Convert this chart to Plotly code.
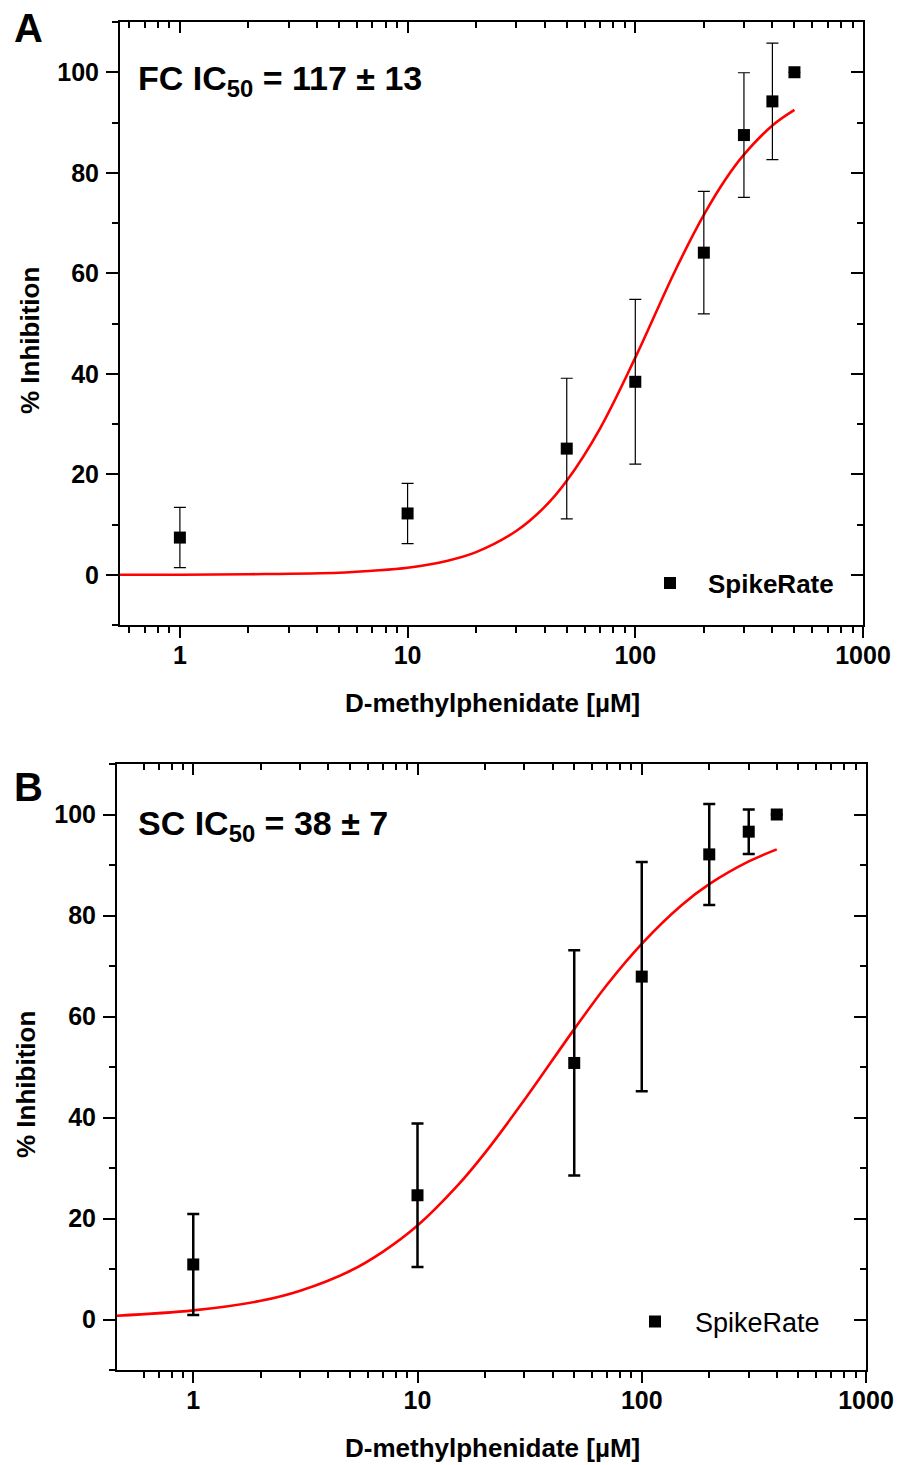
import plotly.graph_objects as go

W, H = 899, 1465

# ---------------- data ----------------
conc_A = [1, 10, 50, 100, 200, 300, 400, 500]
inh_A = [7.4, 12.2, 25.1, 38.4, 64.1, 87.5, 94.2, 100.0]
err_A = [6.0, 6.0, 14.0, 16.4, 12.2, 12.4, 11.6, None]

fit_A_x = [0.546, 1, 2, 5, 7, 10, 15, 20, 30, 40, 50, 70, 100, 150, 200, 250, 300, 400, 500]
fit_A_y = [0.0, 0.0, 0.1, 0.4, 0.8, 1.4, 2.8, 4.5, 8.7, 13.5, 18.7, 29.1, 43.2, 60.6, 71.6, 78.8, 83.6, 89.4, 92.5]

conc_B = [1, 10, 50, 100, 200, 300, 400]
inh_B = [10.9, 24.6, 50.8, 67.9, 92.1, 96.6, 100.0]
err_B = [10.0, 14.2, 22.3, 22.7, 10.0, 4.4, None]

fit_B_x = [0.457, 1, 2, 3, 5, 7, 10, 15, 20, 30, 50, 70, 100, 150, 200, 300, 400]
fit_B_y = [0.75, 1.8, 3.7, 5.7, 9.6, 13.4, 18.6, 26.4, 33.0, 43.5, 57.5, 66.3, 74.4, 82.0, 86.2, 90.7, 93.1]

x_ticks = [1, 10, 100, 1000]
x_ticktext = ["1", "10", "100", "1000"]
x_minor = [0.6, 0.7, 0.8, 0.9] + [a * m for m in (1, 10, 100) for a in range(2, 10)]
y_ticks = [0, 20, 40, 60, 80, 100]

FONT = "Liberation Sans, Arial, sans-serif"

fig = go.Figure()

# Panel A
fig.add_trace(go.Scatter(x=fit_A_x, y=fit_A_y, mode="lines", line=dict(color="#ff0000", width=2.6, shape="spline"),
                         showlegend=False, xaxis="x", yaxis="y", hoverinfo="skip"))
fig.add_trace(go.Scatter(x=conc_A, y=inh_A, mode="markers", name="SpikeRate",
                         marker=dict(symbol="square", size=12, color="black"),
                         error_y=dict(type="data", array=err_A, symmetric=True, color="black", thickness=1.2, width=6),
                         xaxis="x", yaxis="y", legend="legend"))
# Panel B
fig.add_trace(go.Scatter(x=fit_B_x, y=fit_B_y, mode="lines", line=dict(color="#ff0000", width=2.6, shape="spline"),
                         showlegend=False, xaxis="x3", yaxis="y3", hoverinfo="skip"))
fig.add_trace(go.Scatter(x=conc_B, y=inh_B, mode="markers", name="SpikeRate",
                         marker=dict(symbol="square", size=12, color="black"),
                         error_y=dict(type="data", array=err_B, symmetric=True, color="black", thickness=2.5, width=6),
                         xaxis="x3", yaxis="y3", legend="legend2"))

def px_x(p):
    return p / W

def px_y(p):
    return 1 - p / H

tickfont = dict(family=FONT, size=25, color="black", weight="bold")

def xax(rng, dom, anchor, ticks="outside", side="bottom", labels=True, overlay=None):
    d = dict(type="log", range=rng, domain=dom, anchor=anchor, side=side,
             showline=True, linecolor="black", linewidth=2,
             ticks=ticks, ticklen=11, tickwidth=2, tickcolor="black",
             tickmode="array", tickvals=x_ticks, ticktext=x_ticktext,
             showticklabels=labels, tickfont=tickfont, ticklabelstandoff=-4,
             minor=dict(ticks=ticks, ticklen=6, tickwidth=2, tickcolor="black", tickmode="array", tickvals=x_minor, showgrid=False),
             showgrid=False, zeroline=False)
    if overlay:
        d["overlaying"] = overlay
    return d

def yax(dom, anchor, ticks="outside", side="left", labels=True, overlay=None):
    d = dict(range=[-10, 110], domain=dom, anchor=anchor, side=side,
             showline=True, linecolor="black", linewidth=2,
             ticks=ticks, ticklen=12, tickwidth=2, tickcolor="black",
             tickmode="array", tickvals=y_ticks,
             showticklabels=labels, tickfont=tickfont, ticklabelstandoff=2,
             minor=dict(ticks=ticks, ticklen=6, tickwidth=2, tickcolor="black", dtick=10, showgrid=False),
             showgrid=False, zeroline=False)
    if overlay:
        d["overlaying"] = overlay
    return d

domA_x = [px_x(120), px_x(863)]
domA_y = [px_y(625), px_y(22)]
domB_x = [px_x(117), px_x(866)]
domB_y = [px_y(1370), px_y(764)]
rngA = [-0.263, 3.0]
rngB = [-0.34, 3.0]

fig.update_layout(
    width=W, height=H, margin=dict(l=0, r=0, t=0, b=0, autoexpand=False),
    paper_bgcolor="white", plot_bgcolor="white",
    xaxis=xax(rngA, domA_x, "y"),
    yaxis=yax(domA_y, "x"),
    xaxis2=xax(rngA, domA_x, "y", ticks="inside", side="top", labels=False, overlay="x"),
    yaxis2=yax(domA_y, "x", ticks="inside", side="right", labels=False, overlay="y"),
    xaxis3=xax(rngB, domB_x, "y3"),
    yaxis3=yax(domB_y, "x3"),
    xaxis4=xax(rngB, domB_x, "y3", ticks="inside", side="top", labels=False, overlay="x3"),
    yaxis4=yax(domB_y, "x3", ticks="inside", side="right", labels=False, overlay="y3"),
    legend=dict(x=px_x(632), y=px_y(583), xanchor="left", yanchor="middle", itemwidth=66,
                font=dict(family=FONT, size=26, color="black", weight="bold"), bgcolor="rgba(0,0,0,0)"),
    legend2=dict(x=px_x(615), y=px_y(1322), xanchor="left", yanchor="middle", itemwidth=70,
                 font=dict(family=FONT, size=27, color="black"), bgcolor="rgba(0,0,0,0)"),
)

# empty traces so that the mirrored axes exist
fig.add_trace(go.Scatter(x=[], y=[], xaxis="x2", yaxis="y2", showlegend=False))
fig.add_trace(go.Scatter(x=[], y=[], xaxis="x4", yaxis="y4", showlegend=False))

def ann(text, x, y, size, xanchor="center", yanchor="middle", angle=0, bold=True):
    fig.add_annotation(text=text, x=px_x(x), y=px_y(y), xref="paper", yref="paper",
                       xanchor=xanchor, yanchor=yanchor, textangle=angle, showarrow=False,
                       font=dict(family=FONT, size=size, color="black", weight="bold" if bold else "normal"))

ann("A", 28, 28, 40)
ann("B", 28, 787, 40)
ann("FC IC<sub>50</sub> = 117 ± 13", 136, 80, 34, xanchor="left")
ann("SC IC<sub>50</sub> = 38 ± 7", 136, 825, 34, xanchor="left")
ann("D-methylphenidate [µM]", 492, 703, 26)
ann("D-methylphenidate [µM]", 492, 1448, 26)
ann("% Inhibition", 30, 341, 26, angle=-90)
ann("% Inhibition", 26, 1085, 26, angle=-90)

fig.write_html("out.html")
